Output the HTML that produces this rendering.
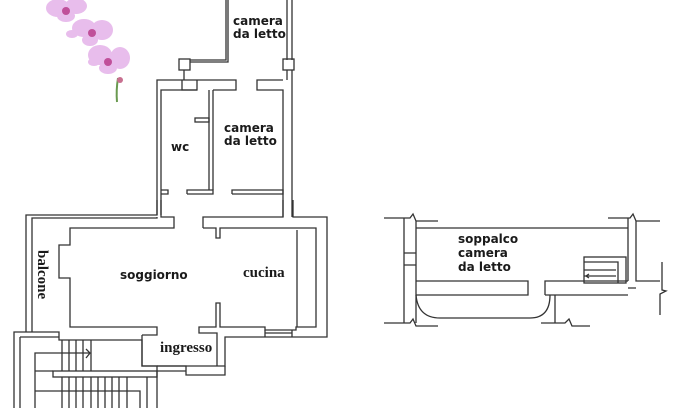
<!DOCTYPE html>
<html><head><style>
body{margin:0;background:#fff}
svg{display:block}
.w{fill:none;stroke:#333;stroke-width:1.3}
.t{font-family:"DejaVu Sans","Liberation Sans",sans-serif;font-size:12px;fill:#1a1a1a;font-weight:bold}
.s{font-family:"Liberation Serif",serif;font-weight:bold;font-size:15px;fill:#1a1a1a}
</style></head><body>
<svg width="680" height="408" viewBox="0 0 680 408">
<!-- orchid -->
<g>
<path d="M118 78 Q116 90 117 102" stroke="#6a9a50" stroke-width="2" fill="none"/>
<g fill="#e8bdec"><ellipse cx="58" cy="8" rx="12" ry="9"/><ellipse cx="76" cy="6" rx="11" ry="8"/><ellipse cx="66" cy="16" rx="9" ry="6"/>
<ellipse cx="84" cy="28" rx="12" ry="9"/><ellipse cx="102" cy="30" rx="11" ry="10"/><ellipse cx="90" cy="40" rx="8" ry="6"/><ellipse cx="72" cy="34" rx="6" ry="4"/>
<ellipse cx="100" cy="55" rx="12" ry="10"/><ellipse cx="120" cy="58" rx="10" ry="11"/><ellipse cx="108" cy="68" rx="9" ry="6"/><ellipse cx="94" cy="62" rx="6" ry="4"/></g>
<g fill="#c0509a"><circle cx="66" cy="11" r="4"/><circle cx="92" cy="33" r="4"/><circle cx="108" cy="62" r="4"/><circle cx="120" cy="80" r="3" fill="#c87090"/></g>
</g>
<!-- top bedroom -->
<polyline class="w" points="228,0 228,62 190,62"/>
<polyline class="w" points="226,0 226,60 190,60"/>
<line class="w" x1="287" y1="0" x2="287" y2="60"/><line class="w" x1="292" y1="0" x2="292" y2="60"/>
<rect class="w" x="179" y="59" width="11" height="11"/><rect class="w" x="283" y="59" width="11" height="11"/>
<line class="w" x1="184" y1="70" x2="184" y2="80"/><line class="w" x1="287" y1="70" x2="287" y2="80"/><line class="w" x1="292" y1="70" x2="292" y2="217"/>
<!-- middle block -->
<polyline class="w" points="157,215 157,80 236,80 236,90 213,90"/>
<polyline class="w" points="182,80 182,90 197,90 197,80"/>
<polyline class="w" points="283,80 257,80 257,90 283,90 283,217"/>
<polyline class="w" points="161,215 161,90 197,90"/>
<line class="w" x1="209" y1="90" x2="209" y2="190"/><line class="w" x1="213" y1="90" x2="213" y2="190"/>
<rect class="w" x="195" y="118" width="14" height="4"/>
<path class="w" d="M161 190 H168 V194 H161 M187 194 V190 H213 V194 H187 M232 194 V190 H283 V194 H232"/>
<!-- living -->
<path class="w" d="M157 200 V215 H26 V332 M32 332 V218 H157 V217"/>
<path class="w" d="M161 200 V217 H174 V228 H70 V245 H59 V278 H70 V327 H157 V335 H142"/>
<path class="w" d="M203 228 V217 H283 V200 M293 200 V217 H327 V337 H225 V366 H142 V335"/>
<path class="w" d="M203 228 H216 V238 H220 V228 H316 V327 H296 V330 H265 V327 H220 V303 H216 V327 H199 V333 H217 V366"/>
<line class="w" x1="297" y1="230" x2="297" y2="327"/>
<path class="w" d="M265 330 V337 M292 330 V337 M265 333 H292"/>
<path class="w" d="M157 366 H186 V375 H225 V366 M157 371 H186"/>
<!-- stairs -->
<path class="w" d="M14 408 V332 H59 V340 H142 V366 H157 V408"/>
<path class="w" d="M20 408 V337 M20 337 H59"/>
<rect class="w" x="53" y="371" width="104" height="6"/>
<path class="w" d="M35 408 V353 H90 M35 391 V371 H53 M35 391 H140 V408"/>
<g class="w"><line x1="62" y1="340" x2="62" y2="371"/><line x1="69" y1="340" x2="69" y2="371"/><line x1="76" y1="340" x2="76" y2="371"/><line x1="83" y1="340" x2="83" y2="371"/><line x1="91" y1="340" x2="91" y2="371"/>
<line x1="62" y1="377" x2="62" y2="408"/><line x1="69" y1="377" x2="69" y2="408"/><line x1="76" y1="377" x2="76" y2="408"/><line x1="83" y1="377" x2="83" y2="408"/><line x1="91" y1="377" x2="91" y2="408"/><line x1="98" y1="377" x2="98" y2="408"/><line x1="105" y1="377" x2="105" y2="408"/><line x1="112" y1="377" x2="112" y2="408"/><line x1="119" y1="377" x2="119" y2="408"/><line x1="127" y1="377" x2="127" y2="408"/><line x1="147" y1="377" x2="147" y2="408"/></g>
<path class="w" d="M86 349 L90 353 L86 358"/>
<!-- right diagram -->
<path class="w" d="M384 218 H410 L413 214 L416 221 H438 M404 218 V323 M416 221 V323 M404 253 H416 M404 265 H416 M384 323 H410 L413 319 L416 326 H438"/>
<path class="w" d="M416 228 H628 M416 281 H528 V295 H416 M628 218 V281 M545 295 V281 H628 M545 295 H628"/>
<path class="w" d="M416 295 Q418 318 440 318 H530 Q550 318 550 295 M555 295 V323 M541 323 H565 L569 319 L572 326 H590"/>
<path class="w" d="M608 218 H630 L633 214 L636 221 H660 M636 221 V281 H660 M662 262 V290 L666 291 L660 294 V315 M636 288 H628"/>
<rect class="w" x="584" y="257" width="42" height="26"/>
<path class="w" d="M584 262 H618 V283 M584 270 H616 M584 276 H616 M589 274 L586 276 L589 278"/>
<!-- labels -->
<text class="t" x="233" y="25">camera</text><text class="t" x="233" y="38">da letto</text>
<text class="t" x="224" y="132">camera</text><text class="t" x="224" y="145">da letto</text>
<text class="t" x="171" y="151">wc</text>
<text class="t" x="120" y="279">soggiorno</text>
<text class="s" x="243" y="277">cucina</text>
<text class="s" x="160" y="352">ingresso</text>
<text class="s" transform="translate(38,250) rotate(90)">balcone</text>
<text class="t" x="458" y="243">soppalco</text><text class="t" x="458" y="257">camera</text><text class="t" x="458" y="271">da letto</text>
</svg>
</body></html>
